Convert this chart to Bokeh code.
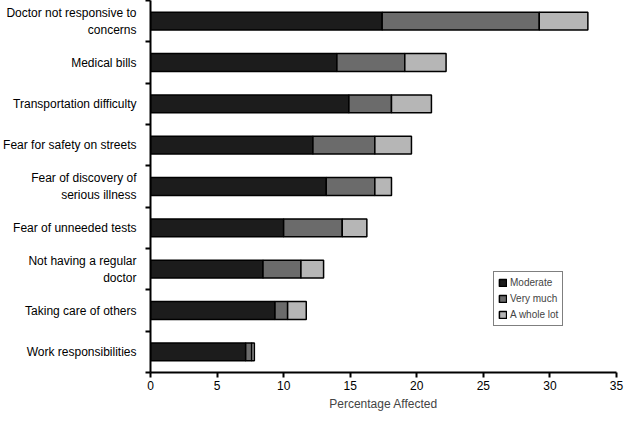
from bokeh.plotting import figure
from bokeh.models import ColumnDataSource, FixedTicker, Range1d
from bokeh.embed import file_html
from bokeh.resources import INLINE

categories = [
    "Doctor not responsive to\nconcerns",
    "Medical bills",
    "Transportation difficulty",
    "Fear for safety on streets",
    "Fear of discovery of\nserious illness",
    "Fear of unneeded tests",
    "Not having a regular\ndoctor",
    "Taking care of others",
    "Work responsibilities",
]
moderate = [17.4, 14.0, 14.9, 12.2, 13.2, 10.0, 8.45, 9.35, 7.15]
very_much = [11.8, 5.1, 3.2, 4.65, 3.65, 4.4, 2.85, 0.95, 0.45]
whole_lot = [3.65, 3.1, 3.0, 2.75, 1.25, 1.85, 1.7, 1.4, 0.2]
series = ["Moderate", "Very much", "A whole lot"]
x_ticks = [0, 5, 10, 15, 20, 25, 30, 35]

n = len(categories)
ypos = [n - 0.5 - i for i in range(n)]

source = ColumnDataSource(dict(y=ypos, Moderate=moderate, **{"Very much": very_much, "A whole lot": whole_lot}))

FONT = "Liberation Sans"

p = figure(width=624, height=413, output_backend="svg", toolbar_location=None,
           x_range=Range1d(0, 35), y_range=Range1d(0, n),
           min_border_left=139, min_border_right=8, min_border_top=0, min_border_bottom=30)

p.hbar_stack(series, y="y", height=0.43, source=source,
             color=["#1c1c1c", "#6b6b6b", "#b6b6b6"],
             line_color="black", line_width=1.5,
             legend_label=series)

p.outline_line_color = None
p.xgrid.visible = False
p.ygrid.visible = False

# x axis
xa = p.xaxis[0]
xa.ticker = FixedTicker(ticks=x_ticks, minor_ticks=[])
xa.axis_label = "Percentage Affected"
xa.axis_label_text_font = FONT
xa.axis_label_text_font_style = "normal"
xa.axis_label_text_font_size = "12px"
xa.axis_label_standoff = 4
xa.major_label_text_font = FONT
xa.major_label_text_font_size = "12px"
xa.major_label_text_color = "black"
xa.axis_line_width = 2
xa.axis_line_color = "black"
xa.major_tick_in = 0
xa.major_tick_out = 5
xa.major_tick_line_width = 2
xa.minor_tick_out = 0
xa.minor_tick_in = 0
xa.major_label_standoff = 3

# y axis
ya = p.yaxis[0]
ya.ticker = FixedTicker(ticks=ypos, minor_ticks=list(range(n + 1)))
ya.major_label_overrides = {y: c for y, c in zip(ypos, categories)}
ya.major_label_text_font = FONT
ya.major_label_text_font_size = "12px"
ya.major_label_text_color = "black"
ya.major_tick_in = 0
ya.major_tick_out = 0
ya.minor_tick_in = 0
ya.minor_tick_out = 5
ya.minor_tick_line_width = 2
ya.minor_tick_line_color = "black"
ya.axis_line_width = 2
ya.axis_line_color = "black"
ya.major_label_standoff = 9

lg = p.legend[0]
lg.location = (343, 46)
lg.label_text_font = FONT
lg.label_text_font_size = "10px"
lg.label_height = 13
lg.glyph_height = 9
lg.glyph_width = 9
lg.label_standoff = 3
lg.spacing = 3
lg.padding = 4
lg.margin = 0
lg.border_line_color = "black"
lg.border_line_width = 1.5
lg.background_fill_alpha = 1

open("out.html", "w").write(file_html(p, INLINE))
